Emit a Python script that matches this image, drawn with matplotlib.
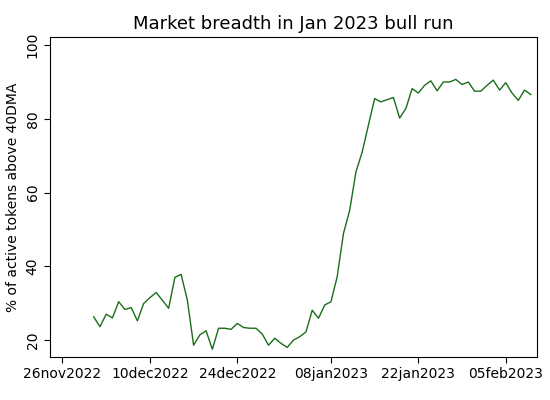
import matplotlib
matplotlib.use("Agg")
import matplotlib.pyplot as plt
import matplotlib.dates as mdates
import numpy as np
import datetime as dt

values = [26.3,23.6,27.0,26.0,30.4,28.3,28.8,25.2,29.9,31.5,32.9,30.8,28.6,37.0,37.8,30.8,
          18.6,21.4,22.5,17.5,23.2,23.2,22.9,24.5,23.4,23.2,23.2,21.6,18.6,20.5,19.1,18.0,
          20.0,20.9,22.2,28.1,25.9,29.5,30.4,37.2,48.9,55.2,65.6,71.0,78.3,85.5,84.6,85.2,
          85.8,80.2,82.8,88.2,87.0,89.1,90.3,87.6,90.0,90.0,90.7,89.3,90.0,87.5,87.5,89.1,
          90.5,87.8,89.8,87.0,85.0,87.8,86.6]
start = dt.date(2022,12,1)
dates = [start + dt.timedelta(days=i) for i in range(len(values))]
tick_dates = [dt.date(2022,11,26), dt.date(2022,12,10), dt.date(2022,12,24),
              dt.date(2023,1,8), dt.date(2023,1,22), dt.date(2023,2,5)]
tick_labels = ["26nov2022","10dec2022","24dec2022","08jan2023","22jan2023","05feb2023"]

fig = plt.figure(figsize=(5.5,4), dpi=100)
ax = fig.add_axes([50/550, 43/400, 487/550, 320/400])
ax.plot(dates, values, color="#1a6e1a", lw=1.0)
ax.set_xlim(dt.date(2022,11,24), dt.date(2023,2,10))
ax.set_ylim(15.4, 102.2)
ax.set_yticks([20,40,60,80,100])
ax.set_xticks(tick_dates)
ax.set_xticklabels(tick_labels)
ax.tick_params(labelsize=10, direction="out", length=4)
plt.setp(ax.get_yticklabels(), rotation=90, va="center")
ax.set_ylabel("% of active tokens above 40DMA", fontsize=10)
ax.set_title("Market breadth in Jan 2023 bull run", fontsize=13)
fig.savefig("out.png", dpi=100)
